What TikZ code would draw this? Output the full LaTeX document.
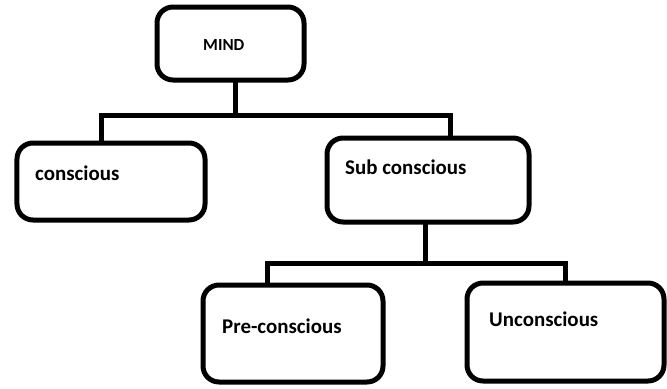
\documentclass[tikz,border=0pt]{standalone}
\usepackage{fontspec}
\setmainfont{Carlito}
\usetikzlibrary{calc}

\begin{document}
\begin{tikzpicture}[x=1bp,y=-1bp]
    \tikzset{box/.style={draw,line width=5bp,rounded corners=16bp,outer sep=0pt,inner sep=0pt},
             lbl/.style={anchor=base west,inner sep=0pt,font=\bfseries\fontsize{21}{24}\selectfont},
             tree/.style={line width=5bp}}
    \useasboundingbox (0,0) rectangle (667,388);
    % boxes
    \node[box,minimum width=147bp,minimum height=73bp] (mind) at (230.5,43.5) {};
    \node[box,minimum width=188bp,minimum height=77bp] (conscious) at (111,181.5) {};
    \node[box,minimum width=202bp,minimum height=84bp] (sub) at (428,180) {};
    \node[box,minimum width=180bp,minimum height=97bp] (pre) at (293,333.5) {};
    \node[box,minimum width=197bp,minimum height=98bp] (uncon) at (565.5,332) {};
    % labels
    \node[lbl,font=\bfseries\fontsize{17}{20}\selectfont] (mindtxt) at ($(mind.north west)+(46,43)$) {MIND};
    \node[lbl] (conscioustxt) at ($(conscious.north west)+(18,37)$) {conscious};
    \node[lbl] (subtxt) at ($(sub.north west)+(18,36)$) {Sub conscious};
    \node[lbl] (pretxt) at ($(pre.north west)+(19,48)$) {Pre-conscious};
    \node[lbl] (uncontxt) at ($(uncon.north west)+(22,43)$) {Unconscious};
    % branches
    \coordinate (top) at (235,115);
    \coordinate (mid) at (425,263);
    \draw[tree] (mind.south -| top) -- (top);
    \draw[tree] ($(conscious.north)+(-10,0)$) |- (top) -| ($(sub.north)+(22,0)$);
    \draw[tree] (sub.south -| mid) -- (mid);
    \draw[tree] ($(pre.north)+(-26,0)$) |- (mid) -| (uncon.north);
\end{tikzpicture}
\end{document}
